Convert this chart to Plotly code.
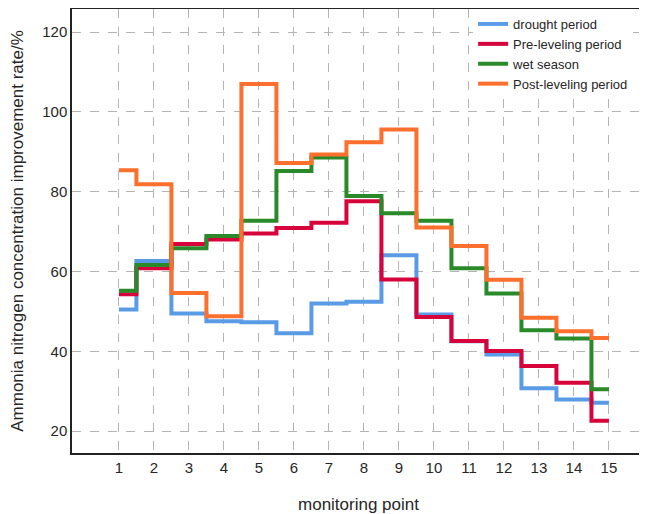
import plotly.graph_objects as go

points = list(range(1, 16))
drought = [50.5, 62.6, 49.5, 47.5, 47.3, 44.5, 52.0, 52.4, 64.1, 49.2, 42.5, 39.2, 30.7, 27.9, 27.1]
pre_leveling = [54.3, 60.8, 66.9, 68.0, 69.5, 70.9, 72.2, 77.6, 58.0, 48.6, 42.6, 40.1, 36.3, 32.1, 22.6]
wet_season = [55.2, 61.6, 65.8, 68.9, 72.7, 85.2, 88.6, 78.9, 74.6, 72.7, 60.8, 54.5, 45.3, 43.2, 30.5]
post_leveling = [85.4, 81.9, 54.6, 48.8, 107.0, 87.2, 89.3, 92.4, 95.6, 71.0, 66.4, 57.9, 48.4, 45.0, 43.3]

series = [
    ("drought period", drought, "#5a9be6"),
    ("Pre-leveling period", pre_leveling, "#d7043c"),
    ("wet season", wet_season, "#2a8a2a"),
    ("Post-leveling period", post_leveling, "#fd6f2c"),
]

fig = go.Figure()
for name, vals, color in series:
    fig.add_trace(go.Scatter(
        x=points, y=vals, name=name, mode="lines",
        line=dict(shape="hvh", color=color, width=4),
    ))

# page body has an 8px margin, so the figure is sized to fit the 647x514 window
fig.update_layout(
    width=639, height=506,
    margin=dict(l=64, r=2, t=1, b=61),
    paper_bgcolor="white", plot_bgcolor="white",
    font=dict(family="Liberation Sans, Arial, sans-serif", size=15, color="#262626"),
    showlegend=True,
    legend=dict(x=0.70, y=1.0, xanchor="left", yanchor="top",
                bgcolor="rgba(255,255,255,1)", font=dict(size=13, color="#262626"),
                itemwidth=30, tracegroupgap=0),
    xaxis=dict(
        range=[-0.34, 16.03], tickmode="array", tickvals=points,
        ticktext=[str(p) for p in points],
        showgrid=True, gridcolor="#b4b4b4", griddash="dash", gridwidth=1,
        zeroline=False, showline=True, linecolor="#222", linewidth=1.5, mirror=True,
        ticks="", automargin=False,
        title=dict(text="monitoring point", font=dict(size=17), standoff=24),
    ),
    yaxis=dict(
        range=[14.5, 125.8], tickvals=[20, 40, 60, 80, 100, 120],
        showgrid=True, gridcolor="#b4b4b4", griddash="dash", gridwidth=1,
        zeroline=False, showline=True, linecolor="#222", linewidth=1.5, mirror=True,
        ticks="", automargin=False,
        title=dict(text="Ammonia nitrogen concentration improvement rate/%", font=dict(size=17), standoff=19),
    ),
)

fig.write_html("out.html")
